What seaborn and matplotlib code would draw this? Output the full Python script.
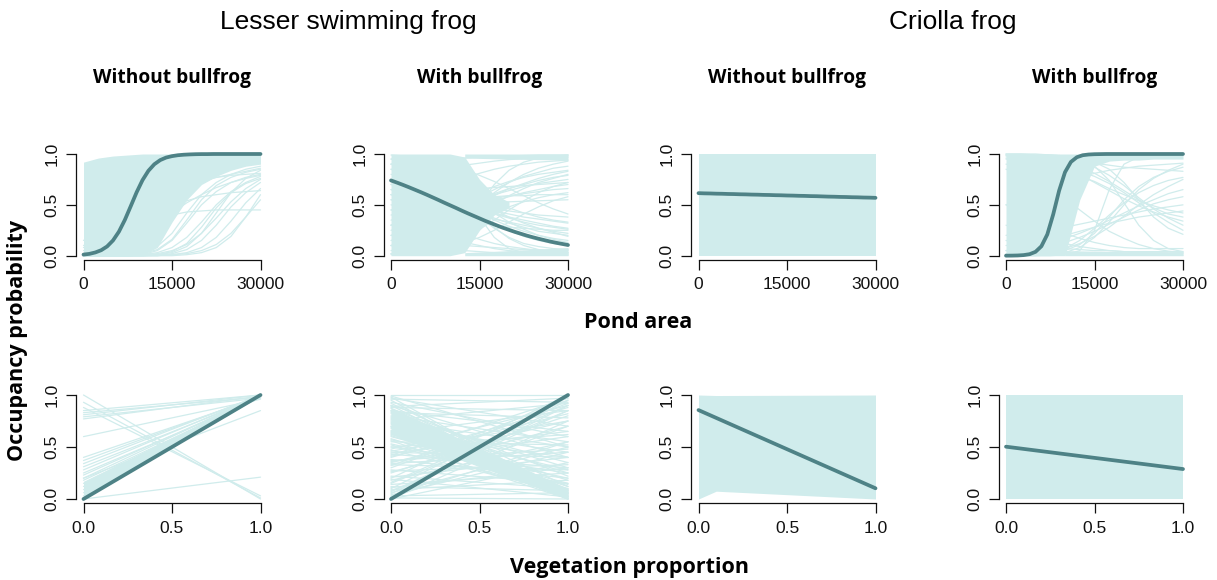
import numpy as np
import pandas as pd
import matplotlib
matplotlib.use("Agg")
import matplotlib.pyplot as plt
import seaborn as sns

# ------------------------------------------------------------------ data
area_grid = [0, 2500, 5000, 7500, 10000, 12500, 15000, 17500, 20000, 22500, 25000, 27500, 30000]
area_fine = list(range(0, 30001, 1000))
veg_ends = [0.0, 1.0]

area_ticks = [0, 15000, 30000]
area_ticklabels = ["0", "15000", "30000"]
veg_ticks = [0.0, 0.5, 1.0]
veg_ticklabels = ["0.0", "0.5", "1.0"]
prob_ticks = [0.0, 0.5, 1.0]
prob_ticklabels = ["0.0", "0.5", "1.0"]

species = ["Lesser swimming frog", "Criolla frog"]
conditions = ["Without bullfrog", "With bullfrog", "Without bullfrog", "With bullfrog"]

# mean occupancy vs pond area (read on a 1000 m2 grid)
mean_lsf_without_area = [0.011, 0.018, 0.032, 0.054, 0.091, 0.150, 0.236, 0.351, 0.486, 0.623,
                         0.743, 0.835, 0.899, 0.940, 0.965, 0.979, 0.988, 0.993, 0.996, 0.998,
                         0.999, 0.999, 1.0, 1.0, 1.0, 1.0, 1.0, 1.0, 1.0, 1.0, 1.0]
mean_lsf_with_area = [0.740, 0.719, 0.697, 0.674, 0.650, 0.626, 0.601, 0.575, 0.549, 0.522,
                      0.496, 0.470, 0.443, 0.417, 0.392, 0.367, 0.342, 0.319, 0.296, 0.274,
                      0.254, 0.234, 0.216, 0.198, 0.182, 0.167, 0.153, 0.139, 0.127, 0.116, 0.105]
mean_cf_without_area = [0.615, 0.613, 0.612, 0.610, 0.609, 0.607, 0.606, 0.604, 0.603, 0.601,
                        0.600, 0.598, 0.597, 0.595, 0.594, 0.592, 0.591, 0.589, 0.588, 0.586,
                        0.585, 0.583, 0.581, 0.580, 0.578, 0.577, 0.575, 0.574, 0.572, 0.571, 0.569]
mean_cf_with_area = [0.0003, 0.0009, 0.0023, 0.006, 0.015, 0.038, 0.093, 0.209, 0.406, 0.639,
                     0.821, 0.922, 0.968, 0.988, 0.995, 0.998, 0.999, 1.0, 1.0, 1.0,
                     1.0, 1.0, 1.0, 1.0, 1.0, 1.0, 1.0, 1.0, 1.0, 1.0, 1.0]

# mean occupancy vs vegetation proportion (values at 0 and 1)
mean_lsf_without_veg = [0.0, 1.0]
mean_lsf_with_veg = [0.0, 1.0]
mean_cf_without_veg = [0.855, 0.103]
mean_cf_with_veg = [0.503, 0.288]

# dense parts of the posterior-draw clouds: (x, lower, upper)
bands_lsf_without_area = [
    ([0, 2500, 5000, 7500, 10000, 12500, 15000, 17500, 20000, 22500, 25000, 27500, 30000],
     [0.0, 0.0, 0.0, 0.0, 0.01, 0.08, 0.33, 0.55, 0.70, 0.78, 0.84, 0.88, 0.90],
     [0.92, 0.96, 0.98, 0.99, 1.0, 1.0, 1.0, 1.0, 1.0, 1.0, 1.0, 1.0, 1.0]),
]
bands_lsf_with_area = [
    ([0, 2500, 5000, 7500, 10000, 12500, 15000, 17500, 20000],
     [0.0, 0.0, 0.0, 0.0, 0.0, 0.03, 0.25, 0.40, 0.47],
     [1.0, 1.0, 1.0, 1.0, 1.0, 0.97, 0.75, 0.60, 0.53]),
    ([12500, 20000, 30000], [0.96, 0.95, 0.94], [1.0, 1.0, 1.0]),
    ([12500, 20000, 30000], [0.0, 0.0, 0.0], [0.03, 0.05, 0.08]),
]
bands_cf_without_area = [
    ([0, 30000], [0.0, 0.0], [1.0, 1.0]),
]
bands_cf_with_area = [
    ([0, 2500, 5000, 7500, 10000, 12500, 15000, 17500, 20000, 22500, 25000, 27500, 30000],
     [0.0, 0.0, 0.0, 0.0, 0.0, 0.55, 0.88, 0.93, 0.94, 0.94, 0.95, 0.95, 0.95],
     [1.0] * 13),
    ([10000, 20000, 30000], [0.0, 0.0, 0.0], [0.05, 0.04, 0.04]),
]

# individual visible draws (pond area panels, values on area_grid)
draws_lsf_without_area = [
    [0.0, 0.0, 0.0, 0.0, 0.01, 0.03, 0.08, 0.18, 0.33, 0.50, 0.63, 0.72, 0.78],
    [0.0, 0.0, 0.0, 0.0, 0.0, 0.01, 0.04, 0.12, 0.28, 0.47, 0.62, 0.71, 0.76],
    [0.0, 0.0, 0.0, 0.0, 0.01, 0.05, 0.15, 0.32, 0.50, 0.63, 0.72, 0.77, 0.80],
    [0.05, 0.10, 0.16, 0.23, 0.30, 0.36, 0.40, 0.43, 0.44, 0.45, 0.45, 0.45, 0.45],
    [0.08, 0.14, 0.21, 0.29, 0.37, 0.44, 0.50, 0.54, 0.58, 0.60, 0.62, 0.63, 0.64],
    [0.0, 0.0, 0.0, 0.01, 0.02, 0.06, 0.16, 0.35, 0.55, 0.69, 0.77, 0.82, 0.85],
    [0.0, 0.0, 0.0, 0.0, 0.0, 0.0, 0.02, 0.06, 0.15, 0.30, 0.48, 0.62, 0.72],
    [0.15, 0.24, 0.34, 0.44, 0.53, 0.60, 0.66, 0.71, 0.74, 0.77, 0.79, 0.80, 0.81],
    [0.0, 0.0, 0.0, 0.01, 0.03, 0.09, 0.22, 0.42, 0.60, 0.72, 0.80, 0.85, 0.88],
    [0.0, 0.0, 0.0, 0.0, 0.0, 0.01, 0.03, 0.09, 0.22, 0.42, 0.62, 0.76, 0.84],
    [0.0, 0.0, 0.0, 0.0, 0.0, 0.0, 0.01, 0.03, 0.08, 0.18, 0.34, 0.52, 0.66],
    [0.02, 0.04, 0.08, 0.14, 0.22, 0.32, 0.42, 0.52, 0.60, 0.67, 0.72, 0.76, 0.79],
    [0.0, 0.0, 0.0, 0.0, 0.01, 0.02, 0.05, 0.11, 0.22, 0.37, 0.53, 0.66, 0.75],
    [0.10, 0.17, 0.26, 0.36, 0.46, 0.55, 0.62, 0.68, 0.73, 0.77, 0.80, 0.83, 0.86],
    [0.0, 0.0, 0.0, 0.0, 0.0, 0.005, 0.01, 0.02, 0.05, 0.11, 0.22, 0.38, 0.55],
    [0.0, 0.0, 0.0, 0.0, 0.0, 0.0, 0.0, 0.01, 0.03, 0.08, 0.19, 0.38, 0.60],
]
draws_lsf_with_area = [
    [0.05, 0.08, 0.12, 0.18, 0.27, 0.38, 0.50, 0.62, 0.72, 0.80, 0.86, 0.90, 0.93],
    [0.15, 0.19, 0.24, 0.30, 0.37, 0.44, 0.52, 0.59, 0.66, 0.71, 0.76, 0.80, 0.83],
    [0.30, 0.33, 0.37, 0.41, 0.45, 0.50, 0.55, 0.60, 0.64, 0.68, 0.71, 0.73, 0.75],
    [0.01, 0.02, 0.04, 0.08, 0.16, 0.30, 0.50, 0.70, 0.84, 0.92, 0.96, 0.98, 0.99],
    [0.35, 0.38, 0.41, 0.44, 0.47, 0.50, 0.53, 0.56, 0.59, 0.61, 0.63, 0.65, 0.66],
    [0.10, 0.12, 0.15, 0.19, 0.24, 0.30, 0.36, 0.42, 0.48, 0.53, 0.57, 0.60, 0.62],
    [0.20, 0.24, 0.29, 0.35, 0.42, 0.50, 0.58, 0.65, 0.72, 0.78, 0.82, 0.86, 0.88],
    [0.45, 0.46, 0.47, 0.48, 0.49, 0.50, 0.51, 0.52, 0.53, 0.535, 0.54, 0.545, 0.55],
    [0.25, 0.29, 0.33, 0.38, 0.43, 0.49, 0.55, 0.61, 0.66, 0.70, 0.74, 0.77, 0.79],
    [0.02, 0.03, 0.05, 0.08, 0.12, 0.18, 0.26, 0.35, 0.45, 0.54, 0.62, 0.68, 0.72],
    [0.95, 0.92, 0.87, 0.80, 0.70, 0.56, 0.42, 0.28, 0.17, 0.10, 0.06, 0.04, 0.03],
    [0.85, 0.80, 0.74, 0.66, 0.58, 0.49, 0.40, 0.32, 0.25, 0.19, 0.15, 0.12, 0.10],
    [0.75, 0.71, 0.66, 0.61, 0.55, 0.49, 0.43, 0.37, 0.32, 0.28, 0.24, 0.22, 0.20],
    [0.70, 0.66, 0.62, 0.58, 0.54, 0.50, 0.46, 0.42, 0.38, 0.35, 0.32, 0.29, 0.27],
    [0.60, 0.58, 0.56, 0.54, 0.52, 0.50, 0.48, 0.46, 0.44, 0.42, 0.40, 0.39, 0.38],
    [0.99, 0.98, 0.96, 0.92, 0.82, 0.62, 0.38, 0.18, 0.07, 0.03, 0.015, 0.01, 0.005],
    [0.90, 0.86, 0.80, 0.72, 0.62, 0.50, 0.38, 0.27, 0.18, 0.12, 0.09, 0.07, 0.06],
    [0.80, 0.75, 0.70, 0.63, 0.56, 0.49, 0.42, 0.35, 0.29, 0.24, 0.20, 0.17, 0.15],
    [0.65, 0.62, 0.59, 0.56, 0.53, 0.50, 0.47, 0.44, 0.41, 0.38, 0.36, 0.34, 0.32],
    [0.55, 0.53, 0.51, 0.49, 0.46, 0.43, 0.40, 0.36, 0.33, 0.30, 0.27, 0.24, 0.22],
    [0.50, 0.47, 0.44, 0.41, 0.38, 0.35, 0.32, 0.30, 0.28, 0.27, 0.26, 0.25, 0.25],
    [0.30, 0.28, 0.25, 0.21, 0.17, 0.13, 0.10, 0.07, 0.05, 0.04, 0.03, 0.02, 0.02],
    [0.45, 0.42, 0.38, 0.33, 0.27, 0.21, 0.16, 0.12, 0.09, 0.07, 0.05, 0.04, 0.03],
    [0.20, 0.18, 0.16, 0.14, 0.12, 0.10, 0.09, 0.08, 0.07, 0.06, 0.06, 0.05, 0.05],
    [0.10, 0.09, 0.08, 0.07, 0.06, 0.05, 0.04, 0.03, 0.02, 0.02, 0.01, 0.01, 0.01],
    [0.70, 0.74, 0.78, 0.82, 0.86, 0.89, 0.91, 0.93, 0.945, 0.955, 0.96, 0.965, 0.97],
    [0.90, 0.92, 0.93, 0.94, 0.95, 0.96, 0.97, 0.975, 0.98, 0.985, 0.99, 0.99, 0.99],
    [0.60, 0.61, 0.62, 0.63, 0.64, 0.65, 0.66, 0.67, 0.68, 0.69, 0.70, 0.71, 0.72],
    [0.40, 0.42, 0.45, 0.49, 0.53, 0.58, 0.63, 0.68, 0.73, 0.77, 0.80, 0.82, 0.84],
    [0.65, 0.63, 0.60, 0.57, 0.53, 0.49, 0.45, 0.41, 0.37, 0.33, 0.30, 0.28, 0.26],
    [0.85, 0.82, 0.78, 0.73, 0.67, 0.60, 0.52, 0.45, 0.38, 0.32, 0.27, 0.23, 0.19],
    [0.30, 0.32, 0.35, 0.38, 0.42, 0.46, 0.50, 0.54, 0.58, 0.62, 0.65, 0.68, 0.70],
    [0.55, 0.55, 0.56, 0.56, 0.57, 0.57, 0.58, 0.58, 0.59, 0.59, 0.60, 0.60, 0.60],
    [0.75, 0.74, 0.72, 0.70, 0.67, 0.63, 0.58, 0.52, 0.47, 0.42, 0.38, 0.35, 0.33],
    [0.10, 0.13, 0.17, 0.22, 0.28, 0.35, 0.43, 0.51, 0.59, 0.66, 0.72, 0.76, 0.80],
    [0.60, 0.62, 0.65, 0.69, 0.73, 0.77, 0.81, 0.85, 0.88, 0.90, 0.92, 0.93, 0.94],
    [0.90, 0.87, 0.83, 0.78, 0.71, 0.62, 0.52, 0.42, 0.33, 0.26, 0.20, 0.16, 0.13],
    [0.02, 0.03, 0.04, 0.06, 0.09, 0.13, 0.18, 0.25, 0.33, 0.41, 0.48, 0.54, 0.58],
    [0.95, 0.94, 0.93, 0.91, 0.88, 0.84, 0.79, 0.73, 0.66, 0.59, 0.52, 0.46, 0.41],
]
draws_cf_without_area = []
draws_cf_with_area = [
    [0.0, 0.0, 0.0, 0.01, 0.03, 0.08, 0.18, 0.33, 0.50, 0.65, 0.76, 0.84, 0.90],
    [0.0, 0.01, 0.02, 0.04, 0.07, 0.12, 0.19, 0.28, 0.39, 0.50, 0.60, 0.68, 0.75],
    [0.05, 0.07, 0.10, 0.13, 0.17, 0.22, 0.28, 0.35, 0.42, 0.49, 0.55, 0.61, 0.65],
    [0.20, 0.22, 0.24, 0.26, 0.28, 0.31, 0.34, 0.37, 0.40, 0.43, 0.46, 0.48, 0.50],
    [0.0, 0.0, 0.01, 0.02, 0.05, 0.11, 0.22, 0.38, 0.55, 0.68, 0.77, 0.83, 0.87],
    [0.02, 0.04, 0.06, 0.09, 0.13, 0.18, 0.24, 0.31, 0.38, 0.45, 0.51, 0.55, 0.58],
    [0.0, 0.0, 0.0, 0.0, 0.01, 0.05, 0.25, 0.65, 0.90, 0.97, 0.99, 1.0, 1.0],
    [0.99, 0.99, 0.98, 0.97, 0.95, 0.92, 0.87, 0.79, 0.69, 0.57, 0.46, 0.37, 0.30],
    [0.98, 0.97, 0.96, 0.94, 0.91, 0.87, 0.81, 0.73, 0.64, 0.55, 0.47, 0.41, 0.38],
    [0.95, 0.94, 0.92, 0.90, 0.87, 0.83, 0.78, 0.71, 0.62, 0.52, 0.42, 0.33, 0.25],
    [1.0, 1.0, 0.99, 0.99, 0.98, 0.96, 0.92, 0.85, 0.72, 0.55, 0.38, 0.27, 0.21],
    [0.90, 0.89, 0.87, 0.85, 0.82, 0.78, 0.73, 0.66, 0.60, 0.54, 0.49, 0.45, 0.42],
    [1.0, 1.0, 1.0, 0.99, 0.98, 0.95, 0.88, 0.74, 0.52, 0.30, 0.15, 0.07, 0.04],
    [0.85, 0.80, 0.74, 0.66, 0.56, 0.45, 0.34, 0.24, 0.17, 0.11, 0.07, 0.045, 0.03],
    [0.99, 0.98, 0.97, 0.96, 0.95, 0.93, 0.91, 0.89, 0.87, 0.86, 0.85, 0.84, 0.83],
    [0.50, 0.56, 0.62, 0.68, 0.73, 0.77, 0.81, 0.84, 0.86, 0.88, 0.89, 0.90, 0.91],
    [0.30, 0.25, 0.20, 0.16, 0.12, 0.09, 0.07, 0.05, 0.04, 0.03, 0.025, 0.02, 0.02],
    [0.15, 0.12, 0.10, 0.08, 0.07, 0.06, 0.05, 0.05, 0.04, 0.04, 0.04, 0.04, 0.04],
    [0.05, 0.04, 0.04, 0.03, 0.03, 0.02, 0.02, 0.01, 0.01, 0.01, 0.01, 0.005, 0.005],
    [0.50, 0.42, 0.35, 0.28, 0.22, 0.17, 0.13, 0.10, 0.08, 0.07, 0.07, 0.07, 0.07],
    [0.0, 0.0, 0.01, 0.03, 0.07, 0.15, 0.27, 0.40, 0.52, 0.62, 0.69, 0.74, 0.77],
    [0.96, 0.95, 0.93, 0.90, 0.86, 0.80, 0.72, 0.64, 0.56, 0.49, 0.43, 0.38, 0.34],
    [0.10, 0.12, 0.14, 0.17, 0.20, 0.24, 0.28, 0.32, 0.35, 0.38, 0.40, 0.42, 0.44],
]

# vegetation panels: dense parts (x, lower, upper) and visible draws (value at 0, value at 1)
bands_lsf_without_veg = [([0.0, 1.0], [0.0, 0.99], [0.17, 1.0])]
bands_lsf_with_veg = [([0.0, 1.0], [0.62, 0.0], [0.88, 0.10])]
bands_cf_without_veg = [([0.0, 0.1, 1.0], [0.0, 0.075, 0.0], [1.0, 0.995, 1.0])]
bands_cf_with_veg = [([0.0, 1.0], [0.0, 0.0], [1.0, 1.0])]

draws_lsf_without_veg = [
    (1.0, 0.0), (0.93, 0.01), (0.88, 0.03), (0.85, 1.0), (0.83, 0.98), (0.81, 1.0),
    (0.79, 0.97), (0.77, 0.99), (0.6, 0.96), (0.4, 0.98), (0.37, 0.99), (0.34, 1.0),
    (0.31, 0.98), (0.28, 1.0), (0.25, 0.97), (0.23, 0.99), (0.2, 1.0), (0.18, 0.98),
    (0.15, 1.0), (0.12, 0.99), (0.09, 1.0), (0.06, 0.99), (0.03, 1.0), (0.0, 0.21),
    (0.2, 0.85),
]
draws_lsf_with_veg = [
    (1.0, 1.0), (0.98, 0.03), (0.96, 0.93), (0.93, 0.6), (0.9, 0.05), (0.88, 0.85),
    (0.85, 0.08), (0.82, 0.3), (0.8, 0.55), (0.78, 0.01), (0.75, 0.5), (0.72, 0.18),
    (0.7, 0.45), (0.68, 0.0), (0.65, 0.09), (0.62, 0.4), (0.6, 0.15), (0.58, 0.07),
    (0.55, 0.52), (0.52, 0.05), (0.5, 0.25), (0.48, 0.9), (0.45, 0.4), (0.42, 0.97),
    (0.4, 0.88), (0.38, 0.2), (0.35, 0.75), (0.33, 0.28), (0.3, 0.92), (0.27, 0.33),
    (0.25, 0.8), (0.22, 0.1), (0.2, 1.0), (0.18, 0.55), (0.15, 0.85), (0.12, 0.08),
    (0.1, 0.95), (0.08, 0.7), (0.06, 0.5), (0.04, 0.45), (0.02, 0.98), (0.0, 0.35),
    (0.95, 0.02), (0.9, 0.4), (0.85, 0.65), (0.77, 0.25), (0.7, 0.04), (0.64, 0.12),
    (0.57, 0.2), (0.5, 0.62), (0.43, 0.3), (0.36, 0.6), (0.28, 0.15), (0.14, 0.25),
    (0.05, 0.9), (0.97, 0.7), (0.83, 0.78), (0.73, 0.0), (0.03, 0.06), (0.01, 0.0),
    (0.99, 0.5), (0.92, 0.12), (0.87, 0.22), (0.84, 0.02), (0.79, 0.35), (0.74, 0.06),
    (0.69, 0.28), (0.66, 0.03), (0.61, 0.1), (0.56, 0.0), (0.53, 0.14), (0.47, 0.06),
    (0.44, 0.65), (0.41, 0.82), (0.37, 0.48), (0.32, 0.95), (0.26, 0.7), (0.21, 0.4),
    (0.16, 0.9), (0.11, 0.3), (0.07, 0.85), (0.0, 0.75), (0.02, 0.55), (0.09, 0.18),
    (0.19, 0.02), (0.34, 0.45), (0.46, 0.75), (0.63, 0.85), (0.76, 0.92), (0.89, 0.97),
]
draws_cf_without_veg = []
draws_cf_with_veg = []

# ------------------------------------------------------------------ style
sns.set_style("white")
INK = "#111111"
plt.rcParams.update({
    "font.family": ["Liberation Sans", "DejaVu Sans"],
    "text.color": "black",
    "xtick.bottom": True,
    "ytick.left": True,
    "xtick.top": False,
    "ytick.right": False,
    "xtick.direction": "out",
    "ytick.direction": "out",
    "xtick.major.size": 7,
    "ytick.major.size": 7,
    "xtick.major.width": 0.9,
    "ytick.major.width": 0.9,
    "xtick.color": INK,
    "ytick.color": INK,
    "xtick.labelcolor": INK,
    "ytick.labelcolor": INK,
    "xtick.labelsize": 12.5,
    "ytick.labelsize": 12.5,
    "xtick.major.pad": 5.5,
    "ytick.major.pad": 5,
})
BOLD = ["Open Sans", "DejaVu Sans"]
CLOUD = "#d0ecec"
MEAN = "#4e8286"

W, H = 1217, 580
fig = plt.figure(figsize=(W / 100, H / 100), dpi=100)

data_w = 177.0
col_x0 = [83.5, 391.0, 698.5, 1006.0]
rows = [(154.0, 255.7), (395.0, 499.0)]  # pixel y of p=1 and p=0


def make_ax(r, c):
    x0 = col_x0[c]
    ytop, ybot = rows[r]
    dh = ybot - ytop
    left = x0 - 0.04 * data_w
    top = ytop - 0.04 * dh
    return fig.add_axes([left / W, 1 - (top + 1.08 * dh) / H, 1.08 * data_w / W, 1.08 * dh / H])


def style(ax, xmax, ticks, labels):
    ax.set_xlim(-0.04 * xmax, 1.04 * xmax)
    ax.set_ylim(-0.04, 1.04)
    for s in ["top", "right"]:
        ax.spines[s].set_visible(False)
    for s in ["left", "bottom"]:
        ax.spines[s].set_visible(True)
        ax.spines[s].set_color(INK)
        ax.spines[s].set_linewidth(0.9)
    ax.spines["left"].set_bounds(0, 1)
    ax.spines["bottom"].set_bounds(0, xmax)
    ax.set_xticks(ticks)
    ax.set_xticklabels(labels)
    ax.set_yticks(prob_ticks)
    ax.set_yticklabels(prob_ticklabels, rotation=90, va="center")
    ax.tick_params(axis="both", which="major", bottom=True, left=True, length=7, width=0.9,
                   color=INK)
    ax.set_xlabel("")
    ax.set_ylabel("")
    ax.set_facecolor("none")


def draw_panel(ax, bands, draws, mean_x, mean_y, xgrid):
    for bx, blo, bhi in bands:
        ax.fill_between(bx, blo, bhi, color=CLOUD, linewidth=0)
    if draws:
        recs = []
        for i, d in enumerate(draws):
            for xv, yv in zip(xgrid, d):
                recs.append({"x": xv, "p": yv, "draw": i})
        df = pd.DataFrame(recs)
        sns.lineplot(data=df, x="x", y="p", units="draw", estimator=None, color=CLOUD,
                     linewidth=0.9, ax=ax, legend=False, sort=False)
    sns.lineplot(x=mean_x, y=mean_y, color=MEAN, linewidth=2.7, ax=ax, legend=False,
                 solid_capstyle="round")


top_specs = [
    (bands_lsf_without_area, draws_lsf_without_area, mean_lsf_without_area),
    (bands_lsf_with_area, draws_lsf_with_area, mean_lsf_with_area),
    (bands_cf_without_area, draws_cf_without_area, mean_cf_without_area),
    (bands_cf_with_area, draws_cf_with_area, mean_cf_with_area),
]
bot_specs = [
    (bands_lsf_without_veg, draws_lsf_without_veg, mean_lsf_without_veg),
    (bands_lsf_with_veg, draws_lsf_with_veg, mean_lsf_with_veg),
    (bands_cf_without_veg, draws_cf_without_veg, mean_cf_without_veg),
    (bands_cf_with_veg, draws_cf_with_veg, mean_cf_with_veg),
]

for c, (bands, dr, mn) in enumerate(top_specs):
    ax = make_ax(0, c)
    draw_panel(ax, bands, dr, area_fine, mn, area_grid)
    style(ax, 30000, area_ticks, area_ticklabels)
    pos = ax.get_position()
    fig.text((pos.x0 + pos.x1) / 2, 1 - 78 / H, conditions[c], ha="center", va="center",
             fontsize=13.8, fontweight="bold", family=BOLD, color="black")

for c, (bands, dr, mn) in enumerate(bot_specs):
    ax = make_ax(1, c)
    draw_panel(ax, bands, dr, veg_ends, mn, veg_ends)
    style(ax, 1.0, veg_ticks, veg_ticklabels)

fig.text(348 / W, 1 - 22 / H, species[0], ha="center", va="center", fontsize=19, color="black")
fig.text(953 / W, 1 - 22 / H, species[1], ha="center", va="center", fontsize=19, color="black")
fig.text(638 / W, 1 - 323 / H, "Pond area", ha="center", va="center", fontsize=15.5,
         fontweight="bold", family=BOLD, color="black")
fig.text(630 / W, 1 - 567 / H, "Vegetation proportion", ha="center", va="center", fontsize=15.5,
         fontweight="bold", family=BOLD, color="black")
fig.text(18 / W, 1 - 340 / H, "Occupancy probability", ha="center", va="center", fontsize=15.5,
         fontweight="bold", family=BOLD, rotation=90, color="black")

fig.savefig("out.png", dpi=100, facecolor="white")
